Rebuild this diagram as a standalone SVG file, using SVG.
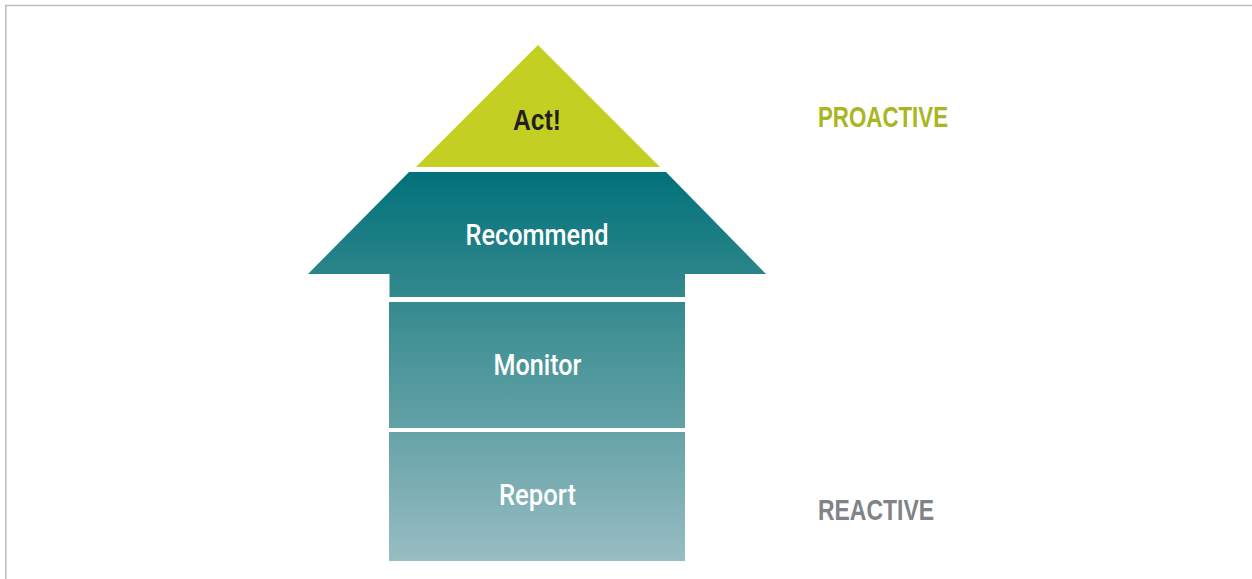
<svg xmlns="http://www.w3.org/2000/svg" width="1252" height="579" viewBox="0 0 1252 579">
  <style>
    .lbl { font-family: "Liberation Sans Narrow", "Liberation Sans", Arial, sans-serif; font-size: 30px; text-anchor: middle; }
    .inner { font-family: Roboto, "Liberation Sans Narrow", "Liberation Sans", sans-serif; font-weight: 500; fill: #ffffff; }
    .side { font-weight: bold; text-anchor: start; }
  </style>
  <defs>
    <!-- one continuous gradient running down the whole arrow -->
    <linearGradient id="arrowFill" gradientUnits="userSpaceOnUse" x1="0" y1="172" x2="0" y2="561">
      <stop offset="0" stop-color="#02717a"/>
      <stop offset="0.33" stop-color="#348a8e"/>
      <stop offset="0.66" stop-color="#64a2a7"/>
      <stop offset="1" stop-color="#98bdc3"/>
    </linearGradient>
  </defs>

  <rect width="1252" height="579" fill="#ffffff"/>

  <!-- frame lines -->
  <g id="frame" stroke="#b9c0c6" stroke-width="1.6" fill="none">
    <line x1="5" y1="5.5" x2="1252" y2="5.5"/>
    <line x1="5.8" y1="5" x2="5.8" y2="579"/>
  </g>

  <g id="act">
    <polygon points="538,45 660,167 416,167" fill="#c3d023"/>
    <text class="lbl" x="537" y="129.5" font-weight="bold" fill="#231f20" textLength="48" lengthAdjust="spacingAndGlyphs">Act!</text>
  </g>

  <g id="recommend">
    <path d="M409,172 L666,172 L766,274 L685,274 L685,297 L389.5,297 L389.5,274 L308,274 Z" fill="url(#arrowFill)"/>
    <text class="lbl inner" x="537" y="245" textLength="143" lengthAdjust="spacingAndGlyphs">Recommend</text>
  </g>

  <g id="monitor">
    <rect x="389" y="302" width="296" height="126" fill="url(#arrowFill)"/>
    <text class="lbl inner" x="537.5" y="375" textLength="88" lengthAdjust="spacingAndGlyphs">Monitor</text>
  </g>

  <g id="report">
    <rect x="389" y="432" width="296" height="129" fill="url(#arrowFill)"/>
    <text class="lbl inner" x="537.5" y="505" textLength="77" lengthAdjust="spacingAndGlyphs">Report</text>
  </g>

  <g id="proactive">
    <text class="lbl side" x="818" y="127" fill="#a9b621" textLength="130" lengthAdjust="spacingAndGlyphs">PROACTIVE</text>
  </g>

  <g id="reactive">
    <text class="lbl side" x="818" y="520" fill="#808387" textLength="116" lengthAdjust="spacingAndGlyphs">REACTIVE</text>
  </g>
</svg>
